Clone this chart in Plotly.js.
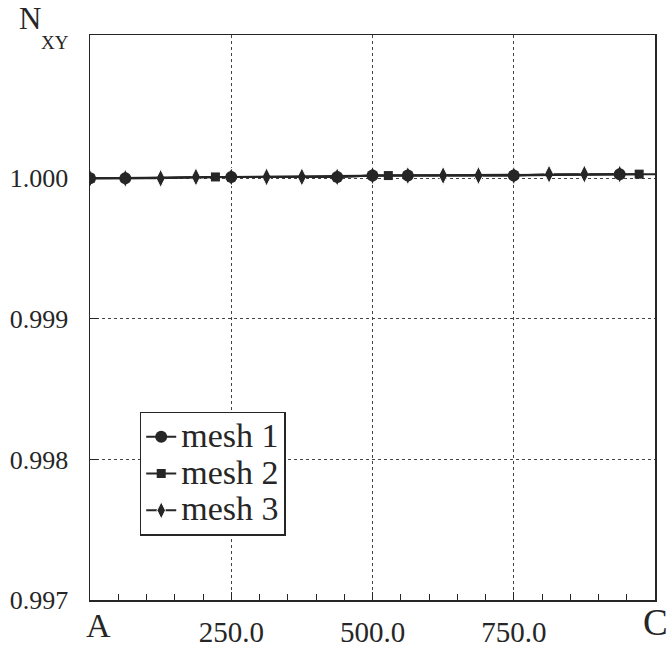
<!DOCTYPE html>
<html><head><meta charset="utf-8">
<script src="https://cdn.plot.ly/plotly-3.0.1.min.js"></script>
<style>html,body{margin:0;padding:0;background:#fff}#chart{width:669px;height:647px}</style>
</head><body><div id="chart"></div>
<script>
// Data
const seriesNames = ['mesh 1', 'mesh 2', 'mesh 3'];
const mesh1X = [0, 62.5, 250, 437.5, 500, 562.5, 750, 937.5];
const mesh1Y = [1.00000, 1.00000, 1.00001, 1.00001, 1.00002, 1.00002, 1.00002, 1.00003];
const mesh2X = [0, 222, 528, 972];
const mesh2Y = [1.00000, 1.00001, 1.00002, 1.00003];
const mesh3X = [0, 62.5, 125, 187.5, 250, 312.5, 375, 437.5, 500, 562.5, 625, 687.5, 750, 812.5, 875, 937.5, 1000];
const mesh3Y = [1.00000, 1.00000, 1.00000, 1.00001, 1.00001, 1.00001, 1.00001, 1.00001, 1.00002, 1.00002, 1.00002, 1.00002, 1.00002, 1.00003, 1.00003, 1.00003, 1.00003];
const xTickVals = [0, 250, 500, 750, 1000];
const xTickLabels = ['A', '250.0', '500.0', '750.0', 'C'];
const yTickVals = [0.997, 0.998, 0.999, 1.000];
const yTickLabels = ['0.997', '0.998', '0.999', '1.000'];

const ink = '#262626';
const serif = 'Liberation Serif, Times New Roman, serif';
const legName = s => '<span style="font-size:34px">' + s + '</span>';

const mesh3Sizes = mesh3X.map((v, i) => i === mesh3X.length - 1 ? 0 : 13);

const traces = [
  {x: mesh3X, y: mesh3Y, name: legName(seriesNames[2]), mode: 'lines+markers',
   line: {color: ink, width: 2}, marker: {symbol: 'diamond-tall', size: mesh3Sizes, color: ink, opacity: 1}},
  {x: mesh2X, y: mesh2Y, name: legName(seriesNames[1]), mode: 'lines+markers',
   line: {color: ink, width: 2}, marker: {symbol: 'square', size: 9, color: ink, opacity: 1}},
  {x: mesh1X, y: mesh1Y, name: legName(seriesNames[0]), mode: 'lines+markers',
   line: {color: ink, width: 2}, marker: {symbol: 'circle', size: 12, color: ink, opacity: 1}}
];

const last = xTickLabels.length - 1;
// inner numeric labels drawn as ticks; end letters (A, C) placed as larger annotations
const tickText = xTickLabels.map((t, i) => (i === 0 || i === last) ? '' : t);

const layout = {
  width: 669, height: 647,
  margin: {l: 90, r: 14, t: 35, b: 47},
  paper_bgcolor: '#fff', plot_bgcolor: '#fff',
  font: {family: serif, color: ink, size: 28},
  showlegend: true,
  legend: {
    x: 0.088, y: 0.333, xanchor: 'left', yanchor: 'top',
    traceorder: 'reversed',
    bordercolor: ink, borderwidth: 1.5, bgcolor: '#fff',
    font: {family: serif, size: 26, color: ink},
    itemwidth: 30, tracegroupgap: 0
  },
  xaxis: {
    range: [0, 1000], tickmode: 'array', tickvals: xTickVals, ticktext: tickText,
    showgrid: true, gridcolor: '#444', griddash: 'dot', gridwidth: 1,
    showline: true, linecolor: ink, linewidth: 1.5, mirror: true,
    ticks: 'inside', ticklen: 8, tickcolor: ink, ticklabelstandoff: 6,
    minor: {dtick: 50, ticks: 'inside', ticklen: 6, tickcolor: ink, showgrid: false},
    tickfont: {family: serif, size: 29, color: ink},
    zeroline: false, fixedrange: true
  },
  yaxis: {
    range: [0.997, 1.00102], tickmode: 'array', tickvals: yTickVals, ticktext: yTickLabels,
    showgrid: true, gridcolor: '#444', griddash: 'dot', gridwidth: 1,
    showline: true, linecolor: ink, linewidth: 1.5, mirror: true,
    ticks: 'inside', ticklen: 8, tickcolor: ink, ticklabelstandoff: 15,
    tickfont: {family: serif, size: 26, color: ink},
    zeroline: false, fixedrange: true
  },
  annotations: [
    {text: 'N', xref: 'paper', yref: 'paper', x: -0.13, y: 1.029, xanchor: 'left', yanchor: 'middle',
     showarrow: false, font: {family: serif, size: 31, color: ink}},
    {text: 'XY', xref: 'paper', yref: 'paper', x: -0.09, y: 0.986, xanchor: 'left', yanchor: 'middle',
     showarrow: false, font: {family: serif, size: 19, color: ink}},
    {text: xTickLabels[0], xref: 'x', yref: 'paper', x: xTickVals[0], y: -0.045, xshift: 8,
     xanchor: 'center', yanchor: 'middle', showarrow: false, font: {family: serif, size: 34, color: ink}},
    {text: xTickLabels[last], xref: 'x', yref: 'paper', x: xTickVals[last], y: -0.04,
     xanchor: 'center', yanchor: 'middle', showarrow: false, font: {family: serif, size: 37, color: ink}}
  ]
};

Plotly.newPlot('chart', traces, layout, {displayModeBar: false, staticPlot: true});
</script></body></html>
